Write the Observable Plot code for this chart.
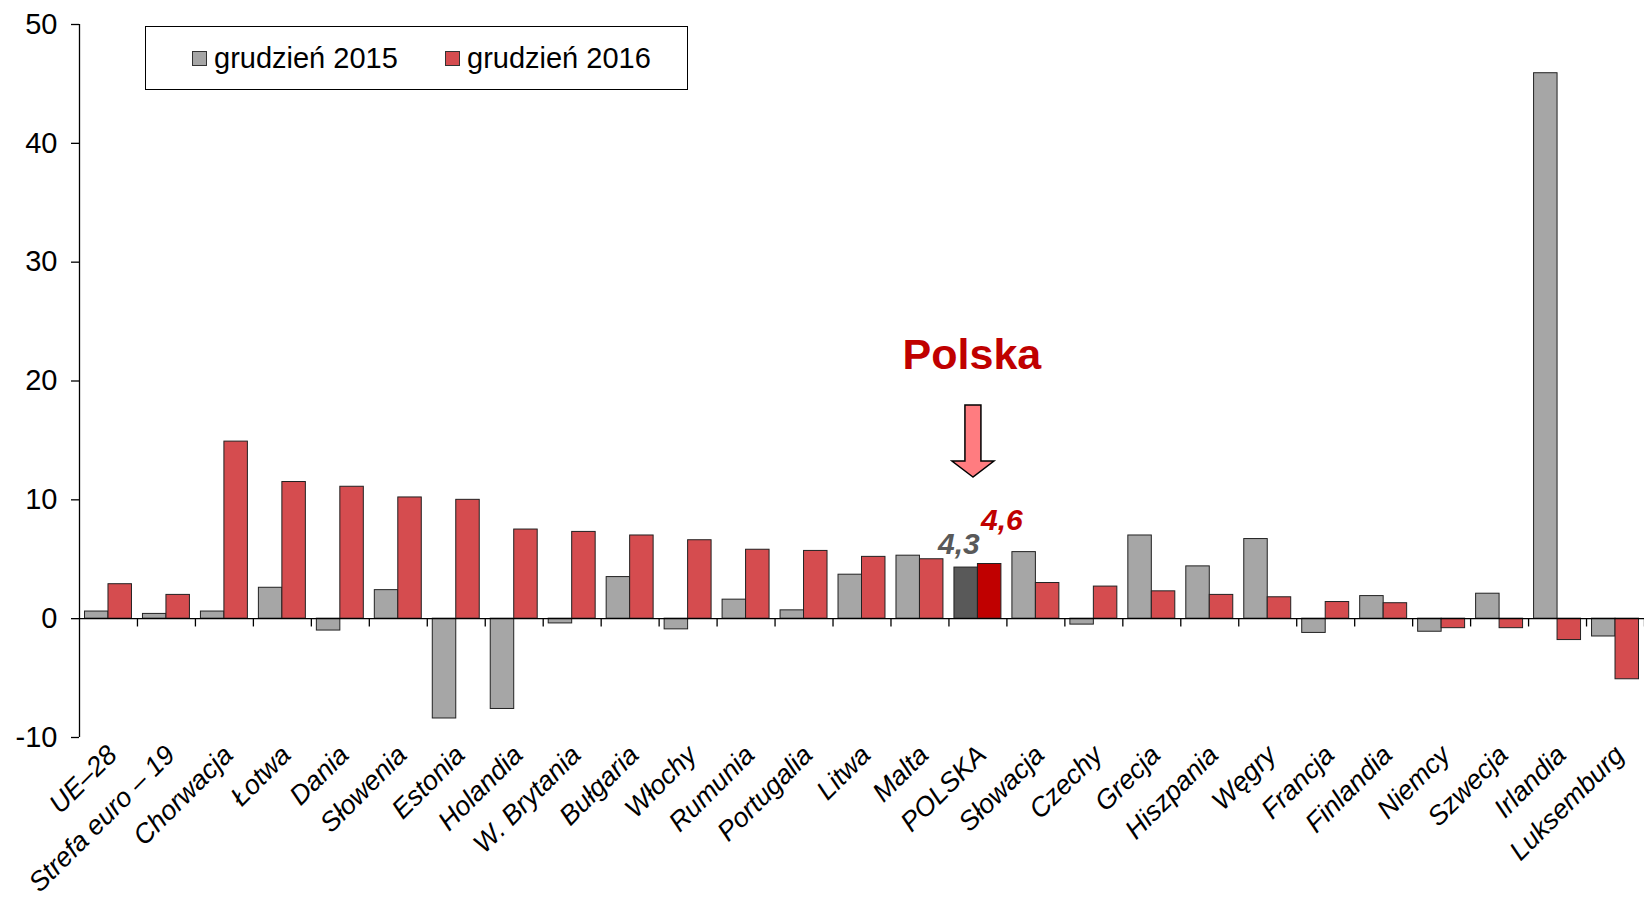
<!DOCTYPE html>
<html><head><meta charset="utf-8">
<script src="https://cdn.jsdelivr.net/npm/d3@7"></script>
<script src="https://cdn.jsdelivr.net/npm/@observablehq/plot@0.6"></script>
<style>
html,body{margin:0;padding:0;background:#fff;}
#wrap{position:relative;width:1644px;height:898px;font-family:"Liberation Sans",Arial,sans-serif;}
#legend{position:absolute;left:145px;top:26px;width:541px;height:62px;border:1px solid #000;background:#fff;font-size:29px;color:#000;}
#legend .item{position:absolute;top:0;height:62px;display:flex;align-items:center;}
#legend .sw{width:13px;height:13px;border:1px solid #333;margin-right:7px;}
</style>
</head><body>
<div id="wrap"></div>
<script>
const countries = ["UE–28","Strefa euro – 19","Chorwacja","Łotwa","Dania","Słowenia","Estonia","Holandia","W. Brytania","Bułgaria","Włochy","Rumunia","Portugalia","Litwa","Malta","POLSKA","Słowacja","Czechy","Grecja","Hiszpania","Węgry","Francja","Finlandia","Niemcy","Szwecja","Irlandia","Luksemburg"];
const v2015 = [0.6,0.4,0.6,2.6,-1.0,2.4,-8.4,-7.6,-0.4,3.5,-0.9,1.6,0.7,3.7,5.3,4.3,5.6,-0.5,7.0,4.4,6.7,-1.2,1.9,-1.1,2.1,45.9,-1.5];
const v2016 = [2.9,2.0,14.9,11.5,11.1,10.2,10.0,7.5,7.3,7.0,6.6,5.8,5.7,5.2,5.0,4.6,3.0,2.7,2.3,2.0,1.8,1.4,1.3,-0.8,-0.8,-1.8,-5.1];
const seriesNames = ["grudzień 2015","grudzień 2016"];
const yTicks = [-10,0,10,20,30,40,50];
const highlight = "POLSKA";
const annotationText = "Polska";

const W = 1644, H = 898, ML = 79, MR = 0, MT = 24, MB = 161;
const bw = (W - ML - MR) / countries.length;
const gap = 5.5;
const rows = countries.map((c, i) => ({country: c, v2015: v2015[i], v2016: v2016[i]}));
const hi = rows.filter(d => d.country === highlight);
const fmt = v => String(v).replace(".", ",");

const arrowSymbol = {
  draw(ctx) {
    ctx.moveTo(0, 0);
    ctx.lineTo(-21, -16);
    ctx.lineTo(-8, -16);
    ctx.lineTo(-8, -72);
    ctx.lineTo(8, -72);
    ctx.lineTo(8, -16);
    ctx.lineTo(21, -16);
    ctx.closePath();
  }
};

const chart = Plot.plot({
  width: W, height: H,
  marginLeft: ML, marginRight: MR, marginTop: MT, marginBottom: MB,
  style: {fontFamily: '"Liberation Sans", Arial, sans-serif', fontSize: "29px", color: "#000", background: "#fff", overflow: "visible"},
  x: {domain: countries, padding: 0, round: false, label: null},
  y: {domain: [-10, 50], label: null},
  marks: [
    Plot.barY(rows, {x: "country", y: "v2015", fill: d => d.country === highlight ? "#595959" : "#a6a6a6", stroke: "#222", strokeWidth: 1, insetLeft: gap, insetRight: bw / 2}),
    Plot.barY(rows, {x: "country", y: "v2016", fill: d => d.country === highlight ? "#c00000" : "#d54c4f", stroke: "#222", strokeWidth: 1, insetLeft: bw / 2, insetRight: gap}),
    Plot.ruleY([0], {stroke: "#000", strokeWidth: 1.3}),
    Plot.ruleX(countries, {x: d => d, dx: bw / 2, y1: 0, y2: -0.7, stroke: "#000", strokeWidth: 1.3}),
    Plot.ruleX([countries[0]], {x: d => d, dx: -bw / 2, y1: -10, y2: 50, stroke: "#000", strokeWidth: 1.3}),
    Plot.axisY({ticks: yTicks, tickSize: 8, tickPadding: 14, tickFormat: d => String(d), fontSize: 29, stroke: "#000", strokeWidth: 1.3}),
    Plot.axisX({tickSize: 0, tickRotate: -45, tickPadding: 10, dx: 4, dy: 3, fontSize: 27, fontStyle: "italic"}),
    Plot.text(hi, {x: "country", y: "v2015", text: d => fmt(d.v2015), dx: -19, dy: -14, lineAnchor: "bottom", fill: "#595959", fontWeight: "bold", fontStyle: "italic", fontSize: 30}),
    Plot.text(hi, {x: "country", y: "v2016", text: d => fmt(d.v2016), dx: 24, dy: -34, lineAnchor: "bottom", fill: "#c00000", fontWeight: "bold", fontStyle: "italic", fontSize: 30}),
    Plot.dot(hi, {x: "country", y: d => Math.max(d.v2015, d.v2016), dx: -5, dy: -87, r: 5, symbol: arrowSymbol, fill: "#ff7c80", stroke: "#000", strokeWidth: 1.5}),
    Plot.text(hi, {x: "country", y: d => Math.max(d.v2015, d.v2016), text: () => annotationText, dx: -6, dy: -195, lineAnchor: "bottom", fill: "#c00000", fontWeight: "bold", fontSize: 43})
  ]
});

const wrap = document.getElementById("wrap");
wrap.appendChild(chart);
const legend = document.createElement("div");
legend.id = "legend";
const swColors = ["#a6a6a6", "#d54c4f"];
const itemLeft = [46, 299];
seriesNames.forEach((name, i) => {
  const it = document.createElement("div");
  it.className = "item";
  it.style.left = itemLeft[i] + "px";
  const sw = document.createElement("span");
  sw.className = "sw";
  sw.style.background = swColors[i];
  const tx = document.createElement("span");
  tx.textContent = name;
  it.appendChild(sw); it.appendChild(tx);
  legend.appendChild(it);
});
wrap.appendChild(legend);
</script>
</body></html>
